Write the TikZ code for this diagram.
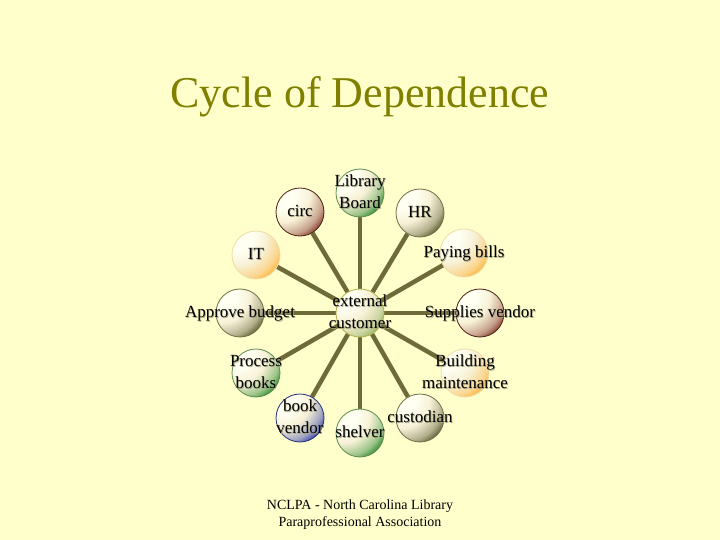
\documentclass[tikz,border=0pt]{standalone}
\usepackage{fontspec}
\setmainfont{Liberation Serif}
\usetikzlibrary{backgrounds}

\definecolor{slidebg}{HTML}{FFFFCC}
\definecolor{titleolive}{HTML}{808000}
\definecolor{spokec}{HTML}{6E6B38}
\definecolor{paper}{HTML}{FFFFF2}
\definecolor{cream}{HTML}{F7F1D6}
\definecolor{txtshade}{HTML}{A8A688}
% rim and deep colours of the orbs
\definecolor{redrim}{HTML}{4A2010}   \definecolor{reddeep}{HTML}{8A3E30}
\definecolor{greenrim}{HTML}{5C8C4C} \definecolor{greendeep}{HTML}{2E8E2E}
\definecolor{olivrim}{HTML}{6E6E48}  \definecolor{olivdeep}{HTML}{5E5E32}
\definecolor{orngrim}{HTML}{EEDCA4}  \definecolor{orngdeep}{HTML}{FFB438}
\definecolor{bluerim}{HTML}{22307E}  \definecolor{bluedeep}{HTML}{3442A8}
\definecolor{hubrim}{HTML}{B4B048}   \definecolor{hubdeep}{HTML}{98B460}

% light from the upper left, colour pooling at the lower right
% (25bp of a shading is the rim of the path it fills)
\newcommand\orbshade[2]{%
  \pgfdeclareradialshading{orb#1}{\pgfpointorigin}{%
    color(0bp)=(paper); color(7bp)=(paper); color(14bp)=(cream);
    color(21bp)=(#2!45!cream); color(25bp)=(#2); color(50bp)=(#2)}}
\orbshade{red}{reddeep}
\orbshade{green}{greendeep}
\orbshade{oliv}{olivdeep}
\orbshade{orng}{orngdeep}
\orbshade{blue}{bluedeep}
\orbshade{hub}{hubdeep}

% text centred on an orb, allowed to run past its rim, with a soft shadow
\newcommand\orbtab[1]{\begin{tabular}{@{}c@{}}#1\end{tabular}}
\newcommand\orbtext[1]{%
  \makebox[0pt]{\raisebox{-1.2pt}[0pt][0pt]{\hspace{1.6pt}\color{txtshade}\orbtab{#1}}}%
  \makebox[0pt]{\orbtab{#1}}}

\tikzset{
  orb/.style={circle, draw=#1rim, line width=0.8pt,
    minimum size=48pt, inner sep=0pt,
    path picture={\shade[shading=orb#1]
      ([shift={(-18pt,18pt)}]path picture bounding box.center) circle (50pt);},
    font=\fontsize{17}{21.5}\selectfont},
  spoke/.style={draw=spokec, line width=4.5pt}
}

\begin{document}
\begin{tikzpicture}[x=1pt, y=-1pt]
  \useasboundingbox (0,0) rectangle (720,540);
  \begin{scope}[on background layer]
    \fill[slidebg] (0,0) rectangle (720,540);
  \end{scope}

  % Title
  \node[anchor=base, text=titleolive, font=\fontsize{44}{50}\selectfont]
    (title) at (360,108) {Cycle of Dependence};

  % Hub
  \node[orb=hub] (ext) at (360,313) {\orbtext{external\\customer}};

  % Ring of dependents
  \node[orb=green] (board)  at (360,193) {\orbtext{Library\\Board}};
  \node[orb=red]   (circ)   at (300,212) {\orbtext{circ}};
  \node[orb=oliv]  (hr)     at (420,213) {\orbtext{HR}};
  \node[orb=orng]  (it)     at (256,255) {\orbtext{IT}};
  \node[orb=orng]  (bills)  at (464,253) {\orbtext{Paying bills}};
  \node[orb=oliv]  (budget) at (240,313) {\orbtext{Approve budget}};
  \node[orb=red]   (supply) at (480,313) {\orbtext{Supplies vendor}};
  \node[orb=green] (books)  at (256,373) {\orbtext{Process\\books}};
  \node[orb=orng]  (maint)  at (465,373) {\orbtext{Building\\maintenance}};
  \node[orb=blue]  (bvend)  at (300,418) {\orbtext{book\\vendor}};
  \node[orb=green] (shelv)  at (360,433) {\orbtext{shelver}};
  \node[orb=oliv]  (cust)   at (420,418) {\orbtext{custodian}};

  % Spokes behind the orbs
  \begin{scope}[on background layer]
    \foreach \n in {board,circ,hr,it,bills,budget,supply,books,maint,bvend,shelv,cust}
      \draw[spoke] (ext) -- (\n);
  \end{scope}

  % Footer
  \node[align=center, font=\fontsize{14}{17}\selectfont]
    (foot) at (360,515) {NCLPA  - North Carolina Library\\Paraprofessional Association};
\end{tikzpicture}
\end{document}
